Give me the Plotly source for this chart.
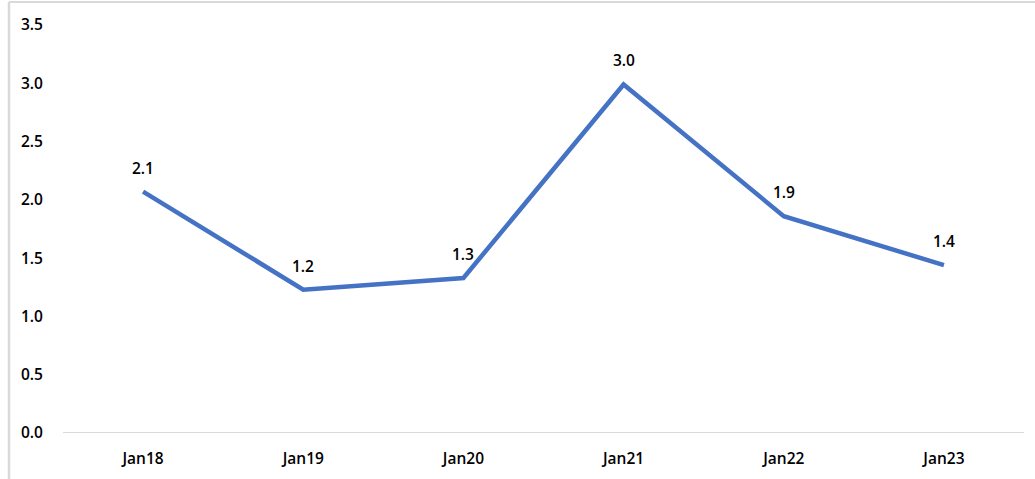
import plotly.graph_objects as go

categories = ["Jan18", "Jan19", "Jan20", "Jan21", "Jan22", "Jan23"]
values = [2.07, 1.23, 1.33, 2.99, 1.86, 1.44]
value_labels = ["2.1", "1.2", "1.3", "3.0", "1.9", "1.4"]
y_ticks = [0.0, 0.5, 1.0, 1.5, 2.0, 2.5, 3.0, 3.5]

FONT = dict(family="Open Sans", size=15.5, color="#000000", weight=600)

fig = go.Figure()
fig.add_trace(go.Scatter(
    x=categories, y=values, mode="lines",
    line=dict(color="#4472C4", width=4.5),
    hoverinfo="skip", showlegend=False,
))

for c, v, t in zip(categories, values, value_labels):
    fig.add_annotation(x=c, y=v, text=t, showarrow=False, yshift=24,
                       font=FONT)

fig.update_layout(
    width=1035, height=479,
    margin=dict(l=63, r=11, t=25, b=46),
    paper_bgcolor="white", plot_bgcolor="white",
    font=FONT,
    xaxis=dict(
        type="category", range=[-0.5, 5.5],
        showgrid=False, zeroline=False,
        showline=False,
        ticks="outside", ticklen=11, tickcolor="rgba(0,0,0,0)",
        tickfont=FONT,
    ),
    yaxis=dict(
        range=[0, 3.5], tickvals=y_ticks,
        ticktext=[f"{v:.1f}" for v in y_ticks],
        showgrid=False, zeroline=False, showline=False,
        ticks="outside", ticklen=16, tickcolor="rgba(0,0,0,0)",
        tickfont=FONT,
    ),
    shapes=[
        dict(type="line", xref="paper", yref="y", x0=0, x1=1, y0=0, y1=0,
             line=dict(color="#d9d9d9", width=2), layer="below"),
        dict(type="line", xref="paper", yref="paper",
             x0=-54/961, x1=-54/961, y0=-2, y1=(433-2)/408,
             line=dict(color="#d9d9d9", width=2.5)),
        dict(type="line", xref="paper", yref="paper",
             x0=-54/961, x1=1.2, y0=(433-2)/408, y1=(433-2)/408,
             line=dict(color="#d9d9d9", width=2)),
    ],
)

fig.write_html("out.html")
